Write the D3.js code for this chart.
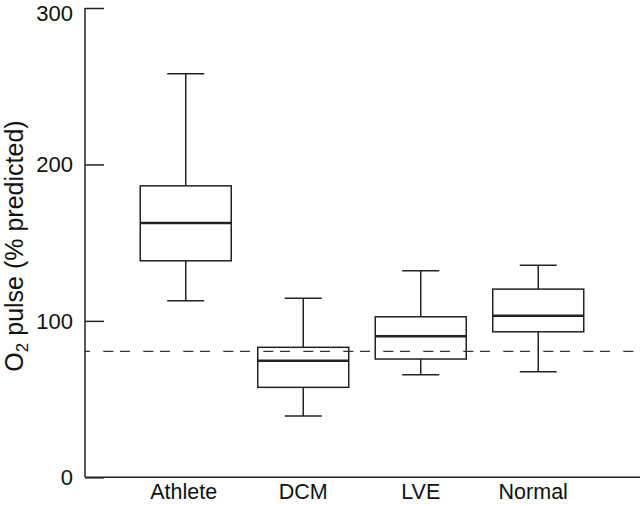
<!DOCTYPE html>
<html><head><meta charset="utf-8">
<script src="https://cdn.jsdelivr.net/npm/d3@7"></script>
<style>body{margin:0;background:#fff}svg{display:block}text{font-family:"Liberation Sans",Arial,sans-serif;fill:#111}</style>
</head><body><svg id="c" width="640" height="505"></svg>
<script>
const categories = ["Athlete","DCM","LVE","Normal"];
const whiskerLow  = [112.8, 39.2, 65.6, 67.5];
const q1          = [138.4, 57.5, 75.6, 93.0];
const median      = [162.5, 74.5, 90.1, 103.3];
const q3          = [186.3, 83.1, 102.6, 120.3];
const whiskerHigh = [258.0, 114.4, 132.0, 135.5];
const yTicks = [0, 100, 200, 300];
const referenceValue = 80.5;

const svg = d3.select("#c");
const x = d3.scaleBand().domain(categories).range([127, 597]).padding(0);
const y = d3.scaleLinear().domain([0, 300]).range([477.3, 8]);
const ink = "#222";
const data = categories.map((c,i)=>({c, lo:whiskerLow[i], q1:q1[i], med:median[i], q3:q3[i], hi:whiskerHigh[i]}));

// axes
svg.append("line").attr("x1",85).attr("x2",640).attr("y1",y(0)).attr("y2",y(0)).attr("stroke",ink).attr("stroke-width",1.5);
const ya = svg.append("g").attr("transform","translate(85,0)")
  .call(d3.axisRight(y).tickValues(yTicks).tickSize(19).tickFormat(""));
ya.select(".domain").attr("stroke",ink).attr("stroke-width",1.5).attr("d",`M0,${y(300)}V${y(0)}`);
ya.selectAll(".tick line").attr("stroke",ink).attr("stroke-width",1.5);
svg.append("g").selectAll("text").data(yTicks).join("text")
  .attr("x",73).attr("y",d=>Math.max(y(d), 13)).attr("dy","0.36em").attr("text-anchor","end")
  .attr("font-size",22).text(d=>d);

// category labels
svg.append("g").selectAll("text").data(categories).join("text")
  .attr("x",(d,i)=>x(d)+x.bandwidth()/2 - (i===0?2:0) - (i===3?5:0)).attr("y",499).attr("text-anchor","middle")
  .attr("font-size",21.5).text(d=>d);

// y label
const yl = svg.append("text").attr("transform","translate(23,246) rotate(-90)").attr("text-anchor","middle").attr("font-size",25);
yl.append("tspan").text("O");
yl.append("tspan").attr("font-size",17).attr("dy",5).text("2");
yl.append("tspan").attr("dy",-5).text(" pulse (% predicted)");

// boxes
const bw = 91, cw = 37;
const g = svg.append("g").selectAll("g").data(data).join("g")
  .attr("transform",d=>`translate(${x(d.c)+x.bandwidth()/2},0)`)
  .attr("stroke",ink).attr("fill","none");
g.append("line").attr("y1",d=>y(d.hi)).attr("y2",d=>y(d.q3)).attr("stroke-width",1.5);
g.append("line").attr("y1",d=>y(d.lo)).attr("y2",d=>y(d.q1)).attr("stroke-width",1.5);
g.append("line").attr("x1",-cw/2).attr("x2",cw/2).attr("y1",d=>y(d.hi)).attr("y2",d=>y(d.hi)).attr("stroke-width",1.5);
g.append("line").attr("x1",-cw/2).attr("x2",cw/2).attr("y1",d=>y(d.lo)).attr("y2",d=>y(d.lo)).attr("stroke-width",1.5);
g.append("rect").attr("x",-bw/2).attr("width",bw).attr("y",d=>y(d.q3)).attr("height",d=>y(d.q1)-y(d.q3)).attr("stroke-width",1.5);
g.append("line").attr("x1",-bw/2).attr("x2",bw/2).attr("y1",d=>y(d.med)).attr("y2",d=>y(d.med)).attr("stroke-width",2.5);

// reference dashed line
svg.append("line").attr("x1",85).attr("x2",640).attr("y1",y(referenceValue)).attr("y2",y(referenceValue))
  .attr("stroke","#333").attr("stroke-width",1.3)
  .attr("stroke-dasharray","10,6.7,10,13.3").attr("stroke-dashoffset",21.7);
</script></body></html>
